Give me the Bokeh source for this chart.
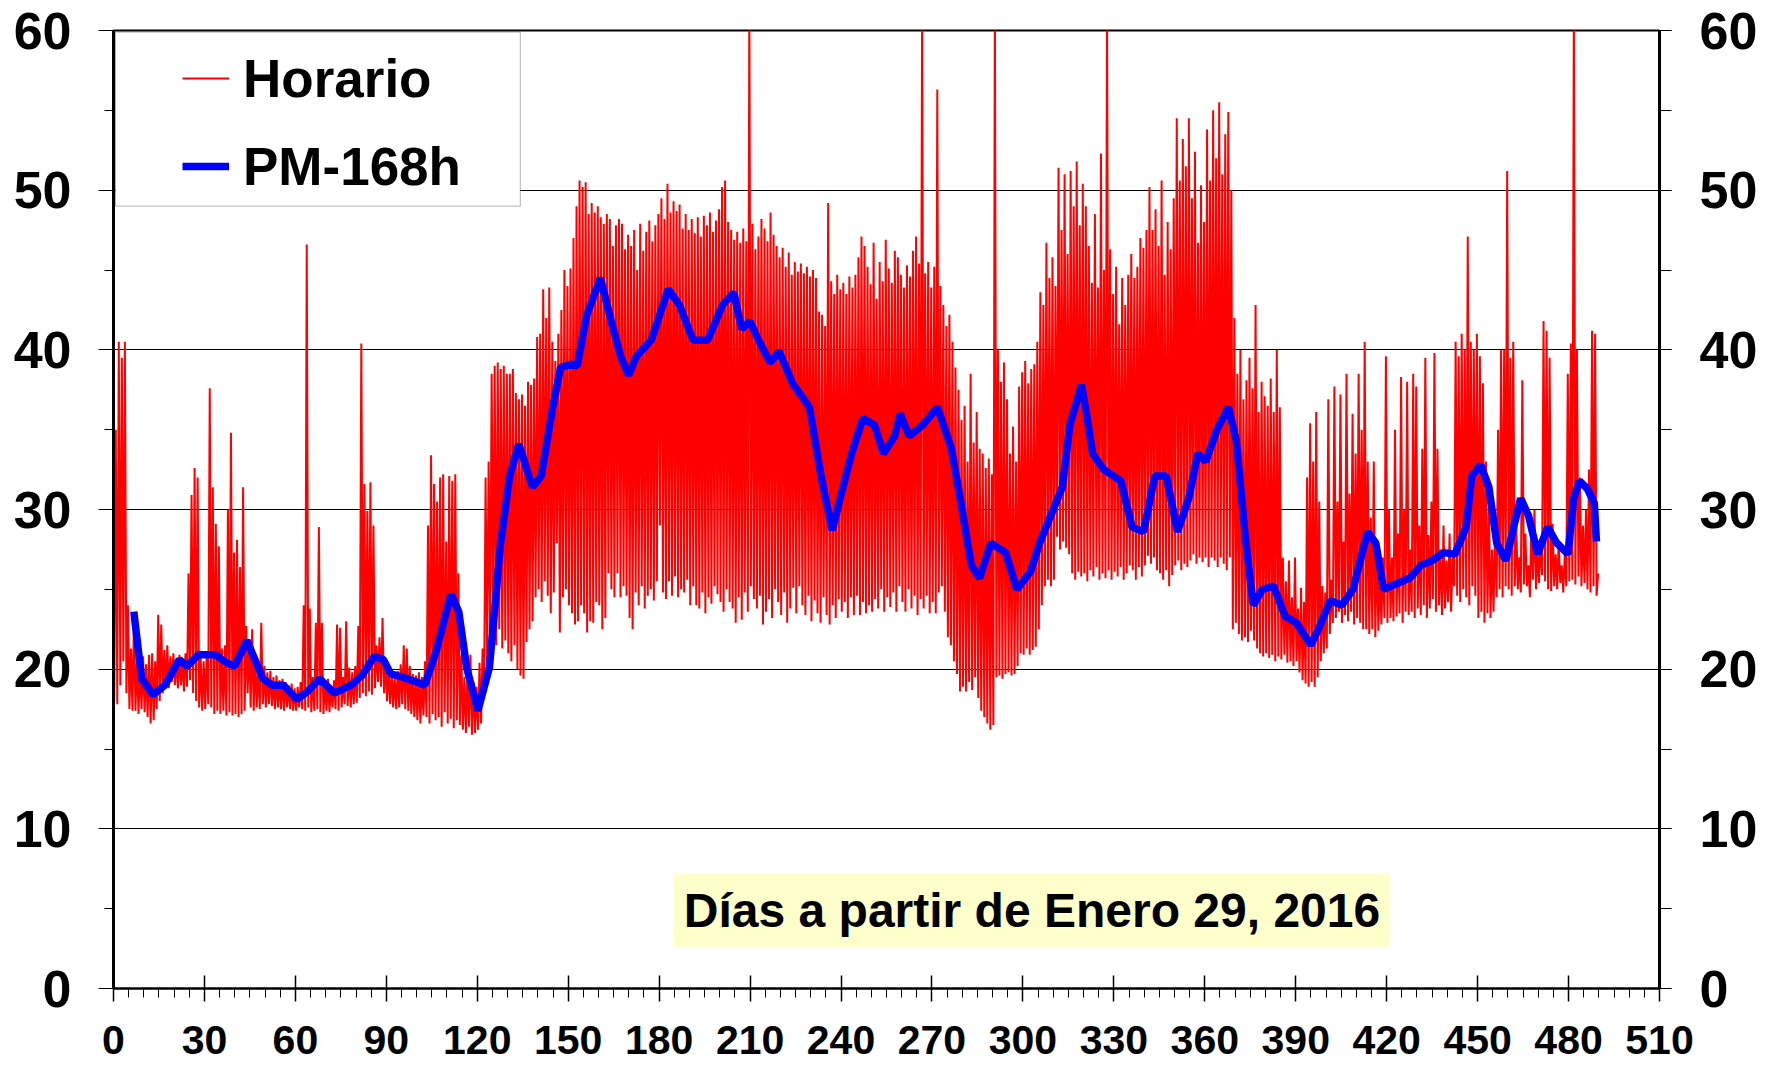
from bokeh.plotting import figure
from bokeh.models import (Range1d, LinearAxis, SingleIntervalTicker, Legend, LegendItem,
                          Label, BoxAnnotation)
from bokeh.embed import file_html
from bokeh.resources import INLINE

# ---- data: daily highs / lows of the hourly series ----
hourly_hi = [
    35, 40.5, 39.5, 40.5, 24, 21.3, 23.2, 20.7, 20.5, 20.8,
    20.3, 20.9, 21, 20.5, 23.4, 22.8, 21.2, 21.5, 20.8, 21,
    20.6, 20.9, 20.5, 21, 26, 30.9, 32.6, 32, 20.8, 20.5,
    21, 37.6, 31.4, 29.1, 27.7, 21.3, 21.5, 30, 34.8, 27.3,
    28.1, 26.4, 31.4, 22.7, 21.8, 22.5, 20.6, 20.3, 22.9, 20.2,
    19.8, 19.9, 19.5, 19.6, 19.3, 19.4, 19.2, 19.0, 19.1, 18.8,
    18.9, 19.2, 24, 46.6, 23.8, 19.5, 22.9, 28.9, 22.9, 19.2,
    19.4, 19.0, 19.3, 22.8, 22.6, 19.5, 23, 20.1, 19.8, 20.2,
    22.7, 40.4, 31.6, 29.9, 31.7, 29, 21.5, 22.0, 23.2, 20.5,
    20.1, 19.8, 19.6, 19.9, 20.3, 21.5, 21.3, 20.2, 19.7, 19.6,
    19.8, 19.5, 20.5, 29, 33.4, 31.6, 30.5, 32, 32.2, 28,
    32.1, 31.8, 32.2, 26, 20.9, 19.5, 19.8, 20.9, 19.2, 18.9,
    20.4, 21.3, 32, 33, 38.5, 39, 39.2, 38.8, 39, 38.5,
    38.5, 38.8, 37.3, 36.9, 37.2, 36.5, 38, 37.8, 38.2, 40.8,
    41, 43.8, 42, 43.9, 40.5, 39.3, 41, 42.5, 45, 44,
    45.1, 47, 49, 50.6, 50.2, 50.5, 48.5, 49.2, 48.6, 49,
    48.3, 47.9, 48.5, 48.2, 46.5, 47.8, 48.2, 47.9, 46.3, 47.2,
    46.5, 47.5, 45, 47.9, 46.2, 47.4, 48.1, 46.8, 47.8, 48.5,
    49.5, 48.2, 50.4, 48.6, 49.3, 48.7, 49.1, 47.6, 48.5, 47.5,
    48.2, 47.3, 48.3, 47.1, 48.4, 47.8, 48.6, 47.4, 48.1, 48.8,
    50.2, 50.6, 48, 47.5, 46.9, 47.4, 46.7, 47.6, 46.8, 62,
    47.9, 46.3, 47.1, 48.2, 47.6, 46.8, 48.6, 47.2, 46.5, 45.8,
    46.4, 45.2, 46.1, 44.7, 45.5, 44.9, 45.4, 44.8, 45.2, 44.6,
    45, 44.5, 42.4, 42.2, 41.5, 49.2, 44.3, 43.5, 44.7, 43.8,
    44.2, 43.5, 44.6, 43.9, 44.7, 45.8, 47.1, 46.5, 45.2, 44.1,
    46.7, 43.2, 45.5, 44.3, 46.9, 45.1, 44.2, 46.2, 45.8, 44.7,
    43.9, 45.3, 44.6, 46.2, 47.1, 45.4, 62, 44.8, 45.5, 43.9,
    45.2, 56.3, 44, 42.8, 41.5, 42.2, 40.5, 38.9, 37.5, 35.6,
    36.5, 33, 38.5, 34.2, 36.1, 33.8, 33.5, 32.6, 33.2, 32.2,
    62, 40, 38, 39.2, 36.9, 33.5, 35.2, 33, 37.7, 38.6,
    39.3, 37.9, 38.8, 39.1, 40.5, 43.6, 42.8, 46.7, 44.5, 45.8,
    44, 51.4, 47.5, 51, 46, 51.2, 49, 51.8, 47.8, 50.4,
    49, 46.5, 44.2, 48.5, 43.9, 52.3, 45, 62, 46.3, 43.5,
    45.2, 41.6, 44.5, 42.8, 44.7, 46, 44.5, 45.2, 47, 46.4,
    47.5, 50.2, 47.5, 48.8, 46.5, 50.6, 44.7, 48, 46.3, 49.5,
    54.5, 50.6, 53.2, 51.5, 54.5, 49.5, 52.4, 46.7, 50.3, 48,
    53.8, 50.6, 55, 52, 55.5, 51, 53.5, 54.9, 50, 42,
    38.5, 40, 36.9, 38.1, 39.5, 37.6, 42.8, 36.1, 38, 37.1,
    36.5, 38.2, 36.1, 40, 36.4, 27, 25.5, 26.8, 24.5, 27,
    23.8, 25.1, 24.2, 32, 35.4, 33, 36.1, 30.5, 25.2, 24.8,
    36.9, 25.6, 37.7, 30.5, 37.2, 28, 38.5, 31, 36, 33.5,
    38.5, 35, 40.5, 33, 29.5, 33, 28, 26.5, 27, 39.6,
    30, 27, 35, 28.5, 38.3, 30, 38, 27.5, 38.5, 37.7,
    29, 33.8, 39.5, 28.4, 30.5, 39.8, 33.8, 27.5, 29, 26.8,
    28.5, 27, 40.5, 39.6, 41, 40, 47.1, 40.5, 40, 41,
    39.6, 37.9, 33, 30, 27.5, 29, 35, 40, 40, 51.2,
    39.5, 40.5, 29.1, 27, 38.1, 28.5, 26.5, 29.5, 30, 27.5,
    28, 41.8, 41.2, 39.5, 29.1, 27.2, 28, 26.5, 27.2, 38.5,
    40.4, 62, 40, 32, 29, 30, 32.5, 41.2, 41, 26,
]
hourly_lo = [
    18, 17.8, 19, 20.5, 18.5, 17.5, 17.4, 17.4, 17.2, 17.5,
    17.3, 17.0, 16.6, 16.8, 17.5, 18, 18.5, 19, 18.8, 19.2,
    19, 18.8, 19, 18.6, 18.9, 19.3, 18.5, 18, 17.6, 17.4,
    17.5, 17.8, 17.6, 17.2, 17.4, 17.2, 17.4, 17.1, 17.3, 17.1,
    17.2, 17.0, 17.2, 17.4, 18.5, 17.6, 17.4, 17.6, 17.5, 17.8,
    17.6, 17.8, 17.7, 17.5, 17.6, 17.5, 17.4, 17.6, 17.5, 17.4,
    17.4, 17.6, 17.5, 17.4, 17.6, 17.3, 17.4, 17.5, 17.3, 17.2,
    17.4, 17.3, 17.6, 17.5, 17.4, 17.6, 17.8, 17.7, 17.6, 17.8,
    17.9, 18.2, 18.5, 18.3, 18.6, 18.4, 18.8, 19.2, 18.9, 18.5,
    18.0, 17.8, 17.6, 17.5, 17.6, 17.8, 17.5, 17.4, 17.2, 17.0,
    16.8, 16.6, 17.1, 17.0, 16.6, 17.2, 16.8, 17.0, 16.4, 17.3,
    16.6, 16.9, 16.3, 16.8, 16.5, 16.2, 16.0, 16.4, 15.9, 16.0,
    16.2, 16.6, 18.5, 20.5, 22, 22.9, 21.5, 22.5, 21.3, 21.8,
    21.0, 20.5, 21.5, 20.0, 19.6, 19.4, 21.7, 22.5, 23, 24.5,
    25, 24.2, 25.5, 24.6, 23.5, 24.8, 27.9, 22.3, 24.5, 25,
    24, 23.5, 22.8, 23, 24, 23.5, 22.3, 23, 22.9, 24.2,
    24, 22.5, 23.2, 26, 25, 24.5, 26, 24.5, 25.2, 24.6,
    23.2, 22.5, 24.8, 24, 25.2, 23.8, 24.6, 25, 24.3, 25.5,
    29, 24.8, 24.4, 25.5, 24.6, 25.8, 24.5, 25, 24.8, 25.6,
    24, 25.2, 24, 23.8, 24.8, 23.5, 24.5, 24.1, 25.2, 24.7,
    24.2, 23.6, 25, 24.2, 23.8, 22.9, 24.5, 23.1, 24.8, 23.6,
    25.2, 24.4, 23.8, 24.6, 22.8, 23.6, 24.4, 23.2, 25, 24.2,
    23.4, 24.8, 22.9, 23.8, 25.1, 23.5, 25.2, 24, 23.4, 24.6,
    23, 24.3, 23.5, 22.9, 24.5, 23.4, 22.8, 24, 23.2, 24.4,
    23.6, 24.2, 23.2, 24.5, 23.4, 24.6, 23.4, 24.2, 23.5, 24,
    23.6, 24.4, 23.8, 25, 23.6, 24.5, 23.9, 24.8, 23.6, 25.2,
    24.2, 23.6, 25, 23.8, 24.6, 23.4, 24.4, 23.8, 24.6, 23.5,
    24.2, 23.5, 24.8, 25.2, 23.6, 22, 21.5, 20.5, 19.7, 18.6,
    18.9, 18.6, 19.2, 18.7, 19.5, 18.2, 17.4, 17, 16.6, 16.2,
    16.5, 19.5, 19.6, 19.4, 19.7, 19.8, 19.6, 19.7, 20.2, 21,
    20.9, 21.3, 20.9, 21.2, 21.4, 22.5, 24, 25.2, 25.6, 25.2,
    25.6, 28.3, 27.5, 28, 27.6, 27.2, 26, 25.6, 26.1, 25.8,
    26, 25.5, 26.2, 25.8, 26.4, 25.6, 26, 25.7, 26.2, 25.6,
    26.1, 25.8, 26.4, 25.6, 26, 26.5, 26.2, 25.6, 26.4, 25.8,
    26.5, 27.1, 26.6, 27, 26.2, 26, 25.6, 26.2, 25.2, 25.9,
    26.5, 26.8, 26.2, 26.6, 26.4, 26.8, 27.2, 26.6, 27, 26.7,
    27, 26.4, 27, 26.8, 26.4, 27, 26.6, 26.2, 27, 22.5,
    22.9, 22.2, 21.8, 22, 21.7, 22.4, 21.8, 21.3, 21, 20.8,
    21, 20.7, 20.9, 20.5, 20.8, 20.6, 20.9, 20.4, 20.5, 20.2,
    20.5, 19.8, 19.3, 19.1, 18.9, 19.2, 18.9, 19.5, 20.5, 21,
    21.3, 22.2, 22.9, 23.2, 23.6, 22.9, 23.4, 23, 23.6, 22.8,
    23.2, 22.9, 22.5, 22.5, 22.2, 22.5, 22, 22.4, 22.8, 23.2,
    22.9, 23.2, 23, 23.3, 23.5, 22.9, 23.6, 23.4, 23.6, 23.2,
    23.8, 23.4, 24, 23.2, 23.8, 24.4, 23.6, 24, 23.4, 23.8,
    24.2, 23.6, 25.2, 24.6, 24.2, 25, 24.5, 24, 25.2, 24.6,
    23.2, 23.6, 22.9, 23.5, 23.2, 23.6, 24.5, 25, 24.5, 25.2,
    25, 24.6, 25.2, 25, 24.8, 25.3, 25.2, 24.5, 25.6, 25,
    25.4, 25.9, 25.5, 25, 24.9, 25.2, 25, 25.4, 24.8, 25.2,
    25.5, 25.6, 25.3, 25.8, 25.2, 25.4, 25, 24.8, 25.2, 24.6,
]
hourly_days = list(range(len(hourly_hi)))

# 168-h moving average (day, value)
pm_days = [6.7, 9.3, 13, 17, 21.7, 24.3, 28, 33.6, 37.3, 40, 44, 49.3, 52.3, 56, 60.5, 64, 68,
           72.8, 78.4, 82, 86, 89, 91.5, 97, 102.7, 106.4, 111.3, 113.9, 116.5, 120.2, 124,
           127.7, 130.7, 133.7, 138.2, 141.1, 144.9, 147.5, 151.2, 153, 156, 160.6, 164.3,
           167.3, 169.9, 172.5, 177.4, 183, 186.7, 191.2, 196, 200.9, 204.6, 207.2, 209.9,
           212.8, 216.6, 219.6, 224, 227, 229.6, 233.4, 237.1, 239.7, 243.5, 247.2, 251, 254,
           257.7, 259.5, 262.5, 267, 271.8, 276.3, 279.3, 283, 285.7, 289.4, 294.3, 298,
           302.5, 305.5, 310, 313, 315.5, 319.3, 321, 323, 326.7, 332.3, 336, 339.8, 343.5,
           347.3, 351, 354.7, 357.7, 360.3, 364, 367.8, 370.4, 373.4, 376, 379, 382.7, 386.5,
           390.2, 395, 397.7, 401.4, 405.2, 408.9, 413.7, 416.4, 419, 423.8, 427.6, 431.3,
           435, 438.8, 442.5, 446.2, 448.1, 451, 453.7, 456.3, 459.3, 461.9, 464.2, 466.8,
           469.8, 473.1, 476.1, 479.8, 481.7, 483.6, 486.2, 488.5, 489.2]
pm_vals = [23.6, 19.4, 18.4, 19.0, 20.6, 20.2, 20.9, 20.9, 20.4, 20.2, 21.8, 19.4, 19.0, 19.0,
           18.1, 18.6, 19.4, 18.5, 19.0, 19.6, 20.8, 20.6, 19.7, 19.4, 19.0, 21.1, 24.7, 23.6,
           20.1, 17.4, 20.1, 27.9, 32.1, 34.1, 31.4, 32.1, 36.4, 38.9, 39.1, 39.0, 42.1, 44.5,
           41.7, 39.6, 38.4, 39.6, 40.6, 43.8, 42.8, 40.6, 40.6, 42.8, 43.6, 41.3, 41.8, 40.6,
           39.2, 39.9, 37.9, 37.1, 36.4, 32.1, 28.7, 30.7, 33.5, 35.7, 35.3, 33.5, 34.6, 36.0,
           34.6, 35.3, 36.4, 33.9, 30.7, 26.5, 25.7, 27.9, 27.3, 25.0, 26.1, 27.9, 30.0, 31.4,
           35.3, 37.8, 36.0, 33.5, 32.5, 31.8, 28.9, 28.6, 32.1, 32.1, 28.6, 30.7, 33.5, 33.0,
           35.0, 36.4, 34.3, 28.2, 24.0, 25.0, 25.2, 23.3, 22.9, 21.5, 22.6, 24.3, 24.0, 25.0,
           28.6, 27.9, 25.0, 25.4, 25.7, 26.5, 26.8, 27.3, 27.2, 28.9, 32.1, 32.8, 31.4, 27.9,
           26.8, 28.9, 30.7, 29.6, 27.2, 28.9, 27.9, 27.2, 30.7, 31.8, 31.3, 30.4, 28.0]

x_ticks_interval = 30
y_ticks_interval = 10
series_names = ["Horario", "PM-168h"]
note_text = "Días a partir de Enero 29, 2016"

# hourly-like trace: low and high of each day in turn
hx, hy = [], []
for d, lo, hi in zip(hourly_days, hourly_lo, hourly_hi):
    hx += [d + 0.25, d + 0.75]
    hy += [lo, hi]

FONT = "Liberation Sans"

p = figure(width=1774, height=1071, x_range=Range1d(0, 510), y_range=Range1d(0, 60),
           output_backend="svg", toolbar_location=None,
           min_border_left=113, min_border_right=115, min_border_top=30, min_border_bottom=83)
p.outline_line_color = "black"
p.outline_line_width = 2
p.background_fill_color = "white"
p.border_fill_color = "white"

r_h = p.line(hx, hy, line_color="#FF0000", line_width=2)
r_pm = p.line(pm_days, pm_vals, line_color="#0000FF", line_width=7.5)

# axes
xt = SingleIntervalTicker(interval=x_ticks_interval, num_minor_ticks=6)
yt = SingleIntervalTicker(interval=y_ticks_interval, num_minor_ticks=2)
p.xaxis.ticker = xt
p.yaxis.ticker = yt
p.xgrid.visible = False
p.ygrid.ticker = yt
p.ygrid.grid_line_color = "black"
p.ygrid.grid_line_width = 1

for ax in p.xaxis:
    ax.axis_line_width = 2
    ax.major_tick_in = 13
    ax.major_tick_out = 13
    ax.minor_tick_in = 0
    ax.minor_tick_out = 9
    ax.major_tick_line_width = 1.5
    ax.major_label_text_font = FONT
    ax.major_label_text_font_style = "bold"
    ax.major_label_text_font_size = "41px"
    ax.major_label_text_color = "black"
    ax.major_label_standoff = 24

for ax in p.yaxis:
    ax.axis_line_width = 3
    ax.major_tick_in = 0
    ax.major_tick_out = 15
    ax.minor_tick_in = 0
    ax.minor_tick_out = 9
    ax.major_label_text_font = FONT
    ax.major_label_text_font_style = "bold"
    ax.major_label_text_font_size = "52px"
    ax.major_label_text_color = "black"
    ax.major_label_standoff = 27

right = LinearAxis(ticker=yt, axis_line_width=3, major_tick_in=16, major_tick_out=12,
                   minor_tick_in=0, minor_tick_out=12,
                   major_label_text_font=FONT, major_label_text_font_style="bold",
                   major_label_text_font_size="52px", major_label_text_color="black",
                   major_label_standoff=28)
p.add_layout(right, "right")

# legend frame and legend
p.add_layout(BoxAnnotation(left=0.66, right=134.2, bottom=49.0, top=59.9,
                           fill_color="white", fill_alpha=1.0,
                           line_color="black", line_width=1))
legend = Legend(items=[LegendItem(label=series_names[0], renderers=[r_h]),
                       LegendItem(label=series_names[1], renderers=[r_pm])],
                location=(69, 790), padding=0, margin=0, spacing=24,
                glyph_width=47, glyph_height=64, label_height=64, label_standoff=14,
                label_text_font=FONT, label_text_font_style="bold",
                label_text_font_size="53px", label_text_color="black",
                background_fill_alpha=0, border_line_alpha=0)
p.add_layout(legend)

note = Label(x=303, y=4.9, text=note_text, text_align="center", text_baseline="middle",
             text_font=FONT, text_font_style="bold", text_font_size="48px",
             text_color="black", background_fill_color="#FFFFCC", background_fill_alpha=1.0,
             padding=10)
p.add_layout(note)

open("out.html", "w").write(file_html(p, INLINE))
